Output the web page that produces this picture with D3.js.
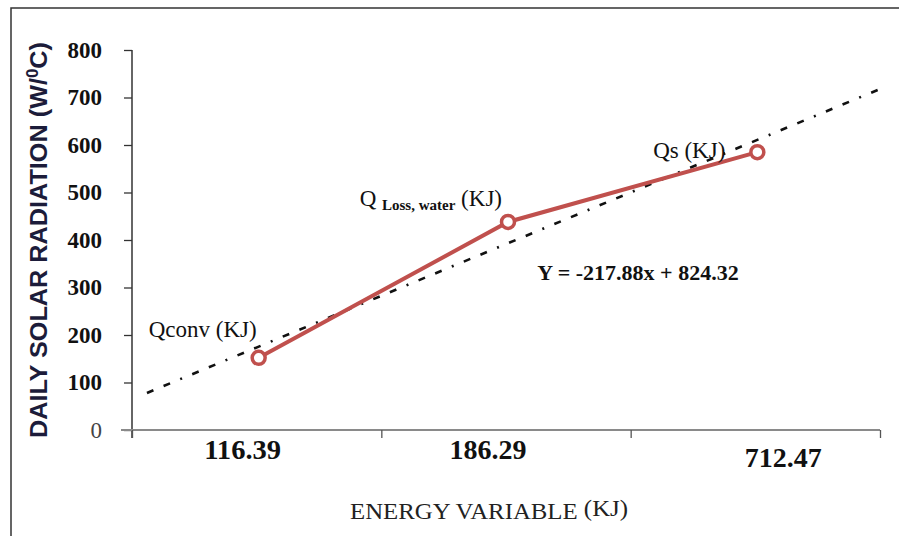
<!DOCTYPE html>
<html>
<head>
<meta charset="utf-8">
<script src="https://cdn.jsdelivr.net/npm/d3@7"></script>
<style>
  body { margin:0; background:#fff; }
  svg { display:block; }
</style>
</head>
<body>
<div id="chart"></div>
<script>
const width = 899
const height = 536

// data
const categories = ["116.39", "186.29", "712.47"]
const values = [152, 438, 585]
const pointLabels = ["Qconv", "Q", "Qs"]
const yTicks = [0, 100, 200, 300, 400, 500, 600, 700, 800]
// trendline ends, x in category units (0..3), y in W/0C
const trendX = [0.06, 3.01]
const trendY = [78, 720]
const equation = "Y = -217.88x + 824.32"

const plot = {left:132, right:880, top:50, bottom:430}

const svg = d3.select("div#chart").append("svg").attr("width", width).attr("height", height)
svg.append("rect").attr("width", width).attr("height", height).attr("fill", "#fff")

// outer frame (right / bottom edges fall outside the picture)
svg.append("rect")
    .attr("x", 11).attr("y", 8)
    .attr("width", width + 10).attr("height", height + 10)
    .attr("fill", "none").attr("stroke", "#333").attr("stroke-width", 1.5)

const x = d3.scaleBand().domain(categories).range([plot.left, plot.right]).padding(0)
const xl = d3.scaleLinear().domain([0, categories.length]).range([plot.left, plot.right])
const y = d3.scaleLinear().domain([0, 800]).range([plot.bottom, plot.top])

// y axis
const yAxis = d3.axisLeft(y).tickValues(yTicks).tickSize(8).tickSizeOuter(0).tickPadding(22)
const yAxisGroup = svg.append("g").attr("transform", `translate(${plot.left},0)`).call(yAxis)
yAxisGroup.select(".domain").attr("stroke", "#333").attr("stroke-width", 1.5)
    .attr("d", `M0,${y(800)}V${plot.bottom + 8}`)
yAxisGroup.selectAll(".tick line").attr("stroke", "#333").attr("stroke-width", 1.3)
yAxisGroup.selectAll(".tick text")
    .attr("font-family", "Liberation Serif, serif")
    .attr("font-size", 23)
    .attr("font-weight", d => d === 0 ? "normal" : "bold")
    .attr("fill", d => d === 0 ? "#444" : "#111")

// x axis
const xAxis = d3.axisBottom(xl).tickValues(d3.range(categories.length + 1)).tickSize(8).tickSizeOuter(0).tickFormat("")
const xAxisGroup = svg.append("g").attr("transform", `translate(0,${plot.bottom})`).call(xAxis)
xAxisGroup.select(".domain").attr("stroke", "#8a8a8a").attr("stroke-width", 2.2)
    .attr("d", `M${plot.left - 11},0H${plot.right}`)
xAxisGroup.selectAll(".tick line").attr("stroke", "#555").attr("stroke-width", 1.3)

const labelShift = [-14, -18, 28]
svg.append("g").selectAll("text").data(categories).enter()
    .append("text")
    .attr("x", (d, i) => x(d) + x.bandwidth() / 2 + labelShift[i])
    .attr("y", (d, i) => plot.bottom + (i === 2 ? 37 : 29))
    .attr("text-anchor", "middle")
    .attr("font-family", "Liberation Serif, serif")
    .attr("font-weight", "bold")
    .attr("font-size", 28)
    .attr("textLength", 77)
    .attr("lengthAdjust", "spacingAndGlyphs")
    .attr("fill", "#111")
    .text(d => d)

// axis titles
svg.append("text")
    .attr("transform", `translate(47,240) rotate(-90)`)
    .attr("text-anchor", "middle")
    .attr("font-family", "Liberation Sans, Arial, sans-serif")
    .attr("font-weight", "bold")
    .attr("font-size", 24)
    .attr("textLength", 396)
    .attr("lengthAdjust", "spacingAndGlyphs")
    .attr("fill", "#1c1c3a")
    .text("DAILY SOLAR RADIATION (W/")
    .append("tspan").attr("dy", -9).attr("font-size", 16).text("0")
    .clone().attr("dy", 9).attr("font-size", 24).text("C)")

const xTitle = svg.append("text")
    .attr("x", 489).attr("y", 519)
    .attr("text-anchor", "middle")
    .attr("font-family", "Liberation Serif, serif")
    .attr("font-size", 23)
    .attr("textLength", 278)
    .attr("lengthAdjust", "spacingAndGlyphs")
    .attr("fill", "#222")
    .text("ENERGY VARIABLE ")
xTitle.append("tspan").attr("dy", -3).text("(KJ)")

// trendline
const trend = trendX.map((d, i) => ({x: d, y: trendY[i]}))
svg.append("path")
    .datum(trend)
    .attr("fill", "none")
    .attr("stroke", "#111")
    .attr("stroke-width", 2.6)
    .attr("stroke-dasharray", "7,11,7,11,2,11")
    .attr("d", d3.line().x(d => xl(d.x)).y(d => y(d.y)))

svg.append("text")
    .attr("x", xl(1.625)).attr("y", y(315))
    .attr("font-family", "Liberation Serif, serif")
    .attr("font-size", 22)
    .attr("font-weight", "bold")
    .attr("fill", "#111")
    .text(equation)

// series line + markers
const points = categories.map((c, i) => ({cat: c, value: values[i], label: pointLabels[i]}))
const px = d => x(d.cat) + x.bandwidth() / 2 + 2

svg.append("path")
    .datum(points)
    .attr("fill", "none")
    .attr("stroke", "#c0504d")
    .attr("stroke-width", 4)
    .attr("d", d3.line().x(px).y(d => y(d.value)))

svg.append("g").selectAll("circle").data(points).enter()
    .append("circle")
    .attr("cx", px)
    .attr("cy", d => y(d.value))
    .attr("r", 6.5)
    .attr("fill", "#fff")
    .attr("stroke", "#c0504d")
    .attr("stroke-width", 3.5)

// point labels
const labelDx = [-2, -6, -32]
const labelDy = [-21, -16, 6]
const labels = svg.append("g").selectAll("text").data(points).enter()
    .append("text")
    .attr("x", (d, i) => px(d) + labelDx[i])
    .attr("y", (d, i) => y(d.value) + labelDy[i])
    .attr("text-anchor", "end")
    .attr("font-family", "Liberation Serif, serif")
    .attr("font-size", 23)
    .attr("fill", "#111")

labels.each(function(d, i) {
    const t = d3.select(this)
    if (i === 1) {
        t.append("tspan").text("Q ")
        t.append("tspan").attr("dy", 4).attr("font-size", 15).attr("font-weight", "bold").text("Loss, water")
        t.append("tspan").attr("dy", -4).text(" (KJ)")
    } else {
        t.text(d.label + " (KJ)")
    }
})
</script>
</body>
</html>
